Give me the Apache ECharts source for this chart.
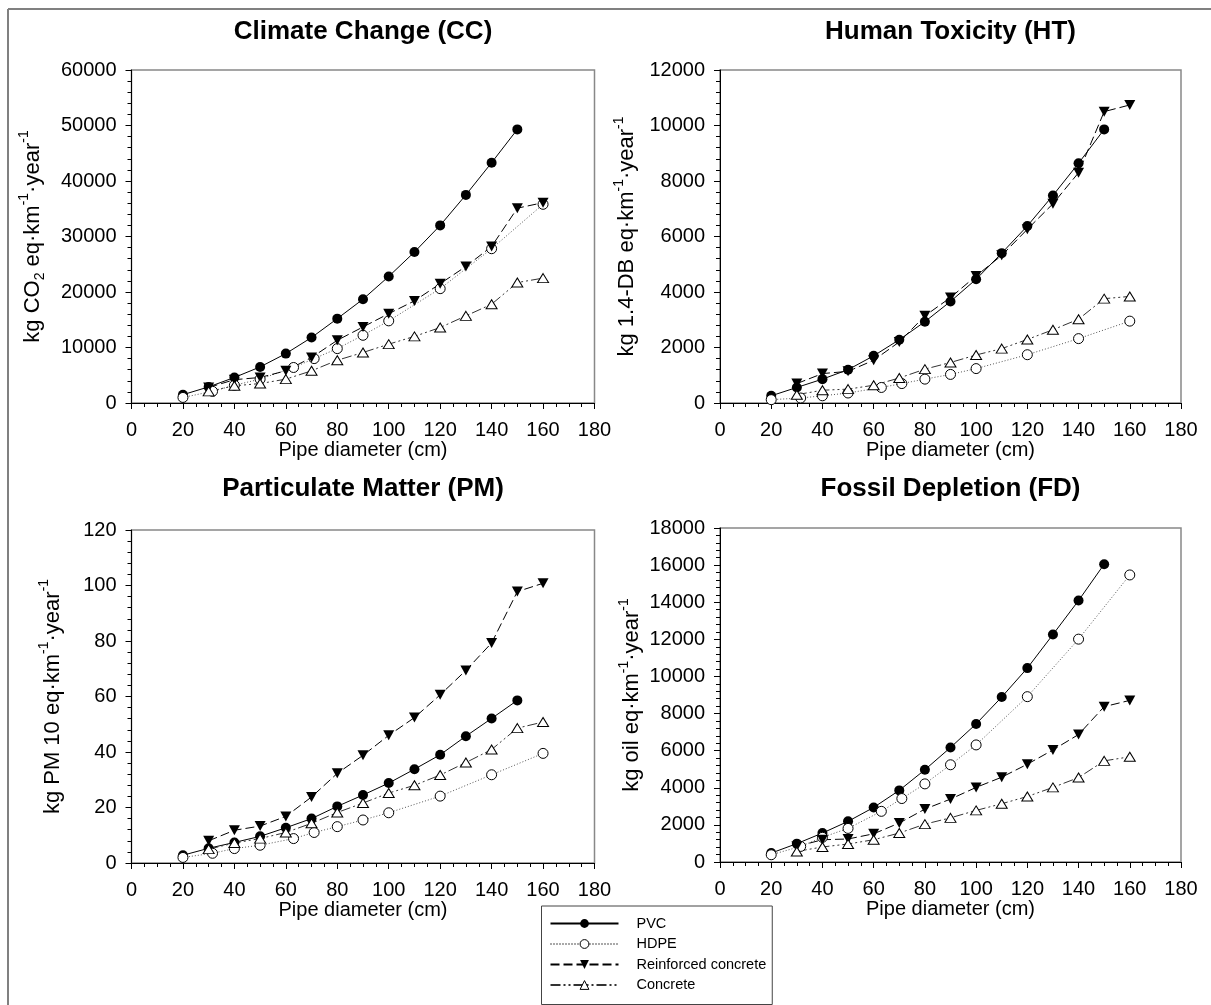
<!DOCTYPE html>
<html>
<head>
<meta charset="utf-8">
<script src="https://cdn.jsdelivr.net/npm/echarts@6/dist/echarts.min.js"></script>
<style>
  html, body { margin: 0; padding: 0; background: #fff; }
  #chart { width: 1211px; height: 1005px; }
</style>
</head>
<body>
<div id="chart"></div>
<script>
// pipe diameters (cm) for each material
const dPvc = [20, 30, 40, 50, 60, 70, 80, 90, 100, 110, 120, 130, 140, 150];
const dHdpe = [20, 31.5, 40, 50, 63, 71, 80, 90, 100, 120, 140, 160];
const dRc = [30, 40, 50, 60, 70, 80, 90, 100, 110, 120, 130, 140, 150, 160];
const dConc = [30, 40, 50, 60, 70, 80, 90, 100, 110, 120, 130, 140, 150, 160];

// Climate Change
const ccPvc = [1500, 2900, 4600, 6500, 8900, 11800, 15200, 18700, 22800, 27200, 32000, 37500, 43300, 49300];
const ccHdpe = [1000, 2100, 3200, 4300, 6400, 8000, 9800, 12200, 14800, 20600, 27800, 35800];
const ccRc = [2800, 4200, 4600, 5800, 8200, 11300, 13700, 16100, 18400, 21500, 24600, 28200, 35100, 36100];
const ccConc = [2100, 3100, 3500, 4300, 5800, 7700, 9100, 10600, 12000, 13600, 15700, 17800, 21700, 22500];

// Human Toxicity
const htPvc = [260, 560, 860, 1200, 1700, 2280, 2930, 3660, 4460, 5400, 6380, 7480, 8640, 9860];
const htHdpe = [120, 180, 260, 360, 560, 700, 860, 1030, 1240, 1740, 2320, 2950];
const htRc = [700, 1060, 1140, 1540, 2200, 3140, 3800, 4580, 5320, 6260, 7180, 8300, 10500, 10740];
const htConc = [300, 460, 500, 640, 900, 1220, 1460, 1730, 1960, 2290, 2640, 3020, 3760, 3840];

// Particulate Matter
const pmPvc = [2.8, 5.3, 7.4, 9.6, 12.7, 16.0, 20.4, 24.5, 28.8, 33.8, 39.0, 45.7, 52.1, 58.6];
const pmHdpe = [2.0, 3.5, 5.2, 6.4, 8.8, 11.0, 13.1, 15.5, 18.1, 24.1, 31.8, 39.5];
const pmRc = [8.0, 11.8, 13.3, 16.8, 23.8, 32.3, 38.8, 46.0, 52.4, 60.6, 69.4, 79.3, 97.8, 100.8];
const pmConc = [5.0, 7.2, 8.8, 11.0, 14.3, 18.2, 21.6, 25.2, 28.0, 31.7, 36.2, 40.9, 48.6, 50.8];

// Fossil Depletion
const fdPvc = [480, 990, 1560, 2190, 2940, 3860, 4970, 6170, 7440, 8890, 10450, 12260, 14090, 16050];
const fdHdpe = [390, 840, 1330, 1810, 2730, 3420, 4210, 5240, 6310, 8910, 12010, 15470];
const fdRc = [840, 1200, 1240, 1520, 2100, 2850, 3390, 4020, 4570, 5270, 6040, 6870, 8370, 8710];
const fdConc = [570, 810, 970, 1200, 1560, 2040, 2380, 2780, 3140, 3530, 4020, 4550, 5450, 5670];

const names = ['PVC', 'HDPE', 'Reinforced concrete', 'Concrete'];
const titles = ['Climate Change (CC)', 'Human Toxicity (HT)', 'Particulate Matter (PM)', 'Fossil Depletion (FD)'];
const yNames = [
	'{m|kg CO}{sub|2}{m| eq·km}{sup|-1}{m|·year}{sup|-1}',
	'{m|kg 1.4-DB eq·km}{sup|-1}{m|·year}{sup|-1}',
	'{m|kg PM 10 eq·km}{sup|-1}{m|·year}{sup|-1}',
	'{m|kg oil eq·km}{sup|-1}{m|·year}{sup|-1}'
];
const yMax = [60000, 12000, 120, 18000];
const yStep = [10000, 2000, 20, 2000];
const xMax = 180;
const xStep = 20;

const font = 'Liberation Sans, Arial, sans-serif';

// panel boxes
const grids = [
	{ left: 131.5, top: 70, width: 463, height: 333 },
	{ left: 720, top: 70, width: 461, height: 333 },
	{ left: 131.5, top: 530, width: 463, height: 333 },
	{ left: 720, top: 528, width: 461, height: 334 }
];
const nameGaps = [84, 78, 64, 73];

const styles = {
	'PVC': {
		symbol: 'circle', symbolSize: 10,
		itemStyle: { color: '#000' },
		lineStyle: { color: '#000', width: 1, type: 'solid' }
	},
	'HDPE': {
		symbol: 'circle', symbolSize: 10,
		itemStyle: { color: '#fff', borderColor: '#000', borderWidth: 1 },
		lineStyle: { color: '#555', width: 1, type: [1, 2] }
	},
	'Reinforced concrete': {
		symbol: 'triangle', symbolRotate: 180, symbolSize: [11, 10],
		itemStyle: { color: '#000' },
		lineStyle: { color: '#000', width: 1, type: [9, 4] }
	},
	'Concrete': {
		symbol: 'triangle', symbolSize: [11, 9],
		itemStyle: { color: '#fff', borderColor: '#000', borderWidth: 1 },
		lineStyle: { color: '#333', width: 1, type: [10, 3, 2, 3, 2, 3] }
	}
};

const panels = [
	[ccPvc, ccHdpe, ccRc, ccConc],
	[htPvc, htHdpe, htRc, htConc],
	[pmPvc, pmHdpe, pmRc, pmConc],
	[fdPvc, fdHdpe, fdRc, fdConc]
];
const xsByMat = [dPvc, dHdpe, dRc, dConc];

let series = [];
panels.forEach((vals, p) => {
	vals.forEach((ys, m) => {
		const st = styles[names[m]];
		series.push(Object.assign({
			name: names[m],
			type: 'line',
			xAxisIndex: p,
			yAxisIndex: p,
			showSymbol: true,
			data: xsByMat[m].map((x, i) => [x, ys[i]])
		}, st));
	});
});

let option = {
	animation: false,
	backgroundColor: '#fff',
	title: titles.map((t, i) => ({
		text: t,
		left: grids[i].left + grids[i].width / 2,
		top: i < 2 ? 19 : 476,
		textAlign: 'center',
		padding: 0,
		textStyle: { fontFamily: font, fontSize: 26, fontWeight: 'bold', color: '#000' }
	})),
	legend: {
		data: names,
		orient: 'vertical',
		left: 541.5,
		top: 906,
		padding: [10, 6, 12, 8],
		itemWidth: 68,
		itemHeight: 11,
		itemGap: 5.5,
		borderColor: '#444',
		borderWidth: 1,
		itemStyle: { borderWidth: 1 },
		textStyle: { fontFamily: font, fontSize: 14.5, color: '#000', lineHeight: 14, padding: [0, 0, 0, 13] }
	},
	grid: grids.map(g => Object.assign({
		show: true,
		borderColor: '#888',
		borderWidth: 1.5,
		outerBoundsMode: 'none',
		containLabel: false
	}, g)),
	xAxis: grids.map((g, i) => ({
		type: 'value',
		gridIndex: i,
		min: 0,
		max: xMax,
		interval: xStep,
		name: 'Pipe diameter (cm)',
		nameLocation: 'middle',
		nameGap: 36,
		nameTextStyle: { fontFamily: font, fontSize: 20, color: '#000' },
		axisLine: { show: true, onZero: false, lineStyle: { color: '#000', width: 1 } },
		axisTick: { show: true, inside: false, length: 6, lineStyle: { color: '#000' } },
		minorTick: { show: true, splitNumber: 4, length: 4, lineStyle: { color: '#000' } },
		axisLabel: { fontFamily: font, fontSize: 20, color: '#000', margin: 17 },
		splitLine: { show: false }
	})),
	yAxis: grids.map((g, i) => ({
		type: 'value',
		gridIndex: i,
		min: 0,
		max: yMax[i],
		interval: yStep[i],
		name: yNames[i],
		nameLocation: 'middle',
		nameRotate: 90,
		nameGap: nameGaps[i],
		nameTextStyle: {
			fontFamily: font, color: '#000',
			rich: {
				m: { fontFamily: font, fontSize: 22, lineHeight: 30, color: '#000' },
				sup: { fontFamily: font, fontSize: 14, lineHeight: 14, verticalAlign: 'top', color: '#000' },
				sub: { fontFamily: font, fontSize: 14, lineHeight: 14, verticalAlign: 'bottom', color: '#000' }
			}
		},
		axisLine: { show: true, onZero: false, lineStyle: { color: '#000', width: 1 } },
		axisTick: { show: true, inside: false, length: 6, lineStyle: { color: '#000' } },
		minorTick: { show: true, splitNumber: 5, length: 4, lineStyle: { color: '#000' } },
		// no thousands separator on the ticks
		axisLabel: { fontFamily: font, fontSize: 20, color: '#000', margin: 15, formatter: v => String(v) },
		splitLine: { show: false }
	})),
	// figure frame, only top and left edges are visible
	graphic: [
		{ type: 'line', shape: { x1: 8, y1: 9, x2: 1211, y2: 9 }, style: { stroke: '#808080', lineWidth: 2 } },
		{ type: 'line', shape: { x1: 8, y1: 9, x2: 8, y2: 1005 }, style: { stroke: '#808080', lineWidth: 2 } }
	],
	series: series
};

let chart = echarts.init(document.getElementById('chart'), null, { renderer: 'canvas' });
chart.setOption(option);
</script>
</body>
</html>
